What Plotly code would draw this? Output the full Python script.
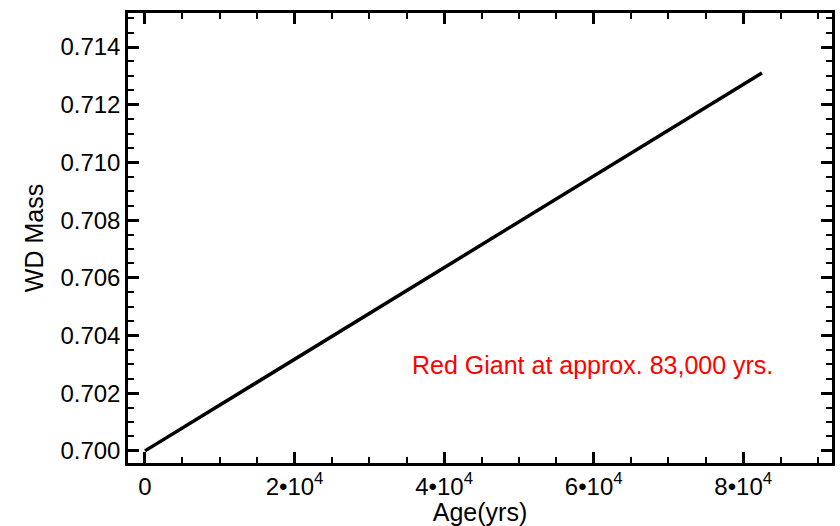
import plotly.graph_objects as go

age = [0, 20000, 40000, 60000, 82500]
mass = [0.7000, 0.70318, 0.70635, 0.70953, 0.7131]

x_tickvals = [0, 20000, 40000, 60000, 80000]
x_ticktext = ["0", "2•10<sup>4</sup>", "4•10<sup>4</sup>", "6•10<sup>4</sup>", "8•10<sup>4</sup>"]
y_tickvals = [0.700, 0.702, 0.704, 0.706, 0.708, 0.710, 0.712, 0.714]
y_ticktext = ["0.700", "0.702", "0.704", "0.706", "0.708", "0.710", "0.712", "0.714"]

font_family = "Liberation Sans, Arial, Helvetica, sans-serif"

fig = go.Figure()
fig.add_trace(go.Scatter(x=age, y=mass, mode="lines",
                         line=dict(color="black", width=3.5), showlegend=False))

fig.add_annotation(x=59800, y=0.70298, text="Red Giant at approx. 83,000 yrs.",
                   showarrow=False, font=dict(color="#ff0000", size=25, family=font_family),
                   xanchor="center", yanchor="middle")

axis_common = dict(
    showgrid=False, zeroline=False, showline=True, linecolor="black", linewidth=2.5,
    mirror="ticks", ticks="inside", ticklen=11, tickwidth=2.5, tickcolor="black",
    tickfont=dict(size=24, family=font_family, color="black"),
)

fig.update_xaxes(range=[-2270, 91870], tickvals=x_tickvals, ticktext=x_ticktext,
                 title=dict(text="Age(yrs)", font=dict(size=25, family=font_family, color="black"), standoff=0),
                 minor=dict(dtick=5000, tick0=0, ticks="inside", ticklen=6, tickwidth=2, tickcolor="black"),
                 **axis_common)
fig.update_yaxes(range=[0.69958, 0.71518], tickvals=y_tickvals, ticktext=y_ticktext,
                 title=dict(text="WD Mass", font=dict(size=25, family=font_family, color="black"), standoff=10),
                 minor=dict(dtick=0.0005, tick0=0.7, ticks="inside", ticklen=6, tickwidth=2, tickcolor="black"),
                 **axis_common)

fig.update_layout(width=840, height=526, margin=dict(l=128, r=5, t=13, b=63),
                  plot_bgcolor="white", paper_bgcolor="white")

fig.write_html("out.html")
